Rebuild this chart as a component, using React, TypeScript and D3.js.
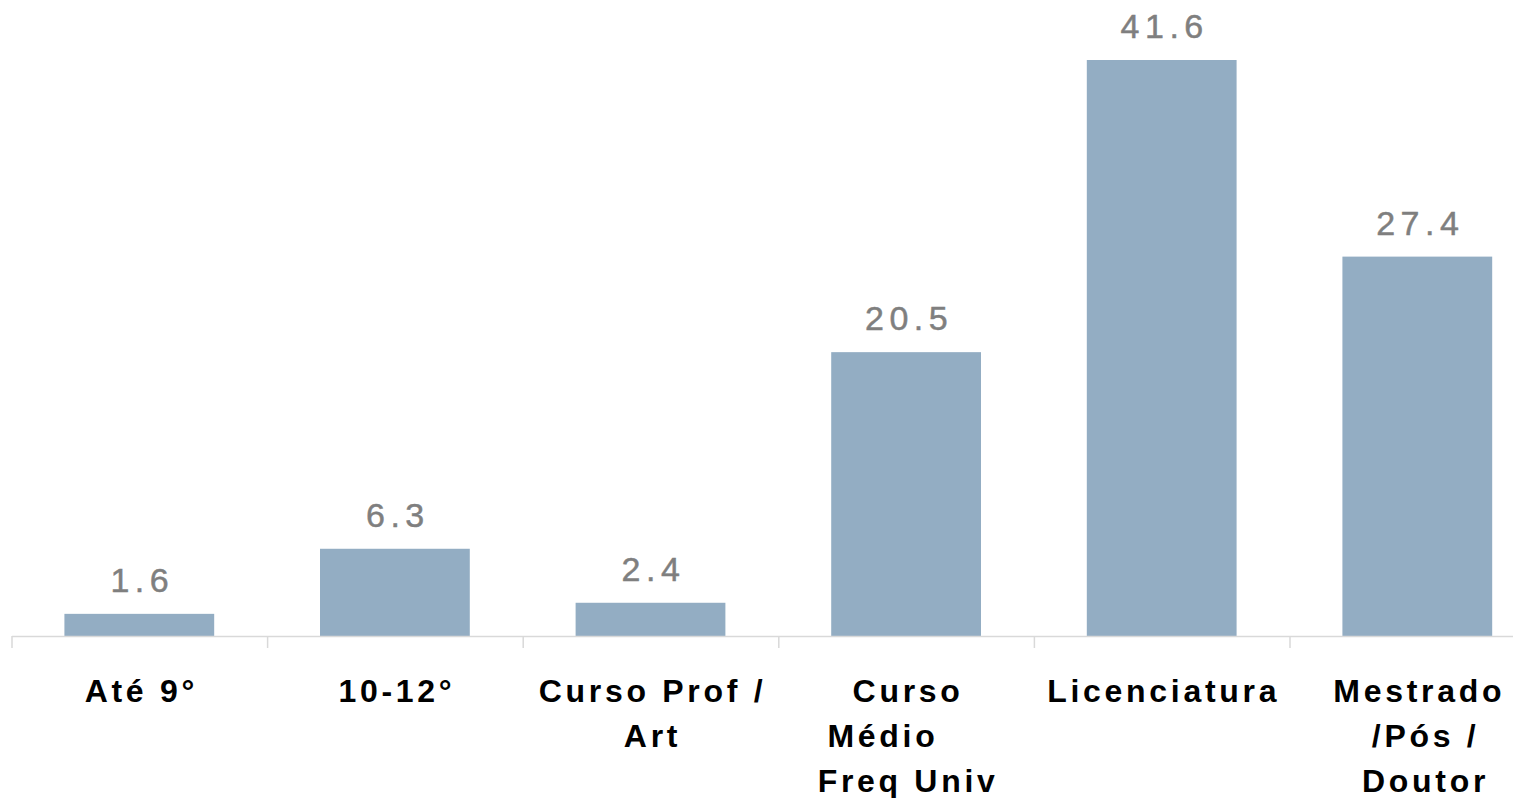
import React, { useEffect, useRef } from 'react';
import * as d3 from 'd3';

const categories = ['Até 9º', '10-12º', 'Curso Prof / Art', 'Curso Médio Freq Univ', 'Licenciatura', 'Mestrado /Pós / Doutor'];
const labelLines = [
  ['Até 9°'],
  ['10-12°'],
  ['Curso Prof /', 'Art'],
  ['Curso', 'Médio    ', 'Freq Univ'],
  ['Licenciatura'],
  ['Mestrado', ' /Pós /', ' Doutor'],
];
const values = [1.6, 6.3, 2.4, 20.5, 41.6, 27.4];

const App = () => {
  const ref = useRef<SVGSVGElement | null>(null);

  useEffect(() => {
    const width = 1513;
    const height = 798;
    const baseY = 636;

    const svg = d3.select(ref.current);
    svg.selectAll('*').remove();

    const x = d3.scaleBand<string>()
      .domain(categories)
      .range([11.5, 11.5 + 6 * 255.6])
      .padding(0);

    const y = d3.scaleLinear()
      .domain([0, 41.6])
      .range([baseY, 60]);

    const barW = x.bandwidth() * 0.586;

    svg.selectAll('rect.bar')
      .data(values)
      .enter()
      .append('rect')
      .attr('class', 'bar')
      .attr('x', (d, i) => x(categories[i])! + (x.bandwidth() - barW) / 2)
      .attr('y', d => y(d))
      .attr('width', barW)
      .attr('height', d => baseY - y(d))
      .attr('fill', '#93adc3');

    // axis line and ticks at category boundaries
    svg.append('line')
      .attr('x1', 12)
      .attr('x2', width)
      .attr('y1', baseY + 0.5)
      .attr('y2', baseY + 0.5)
      .attr('stroke', '#d9d9d9')
      .attr('stroke-width', 1.5);

    svg.selectAll('line.tick')
      .data(categories)
      .enter()
      .append('line')
      .attr('class', 'tick')
      .attr('x1', d => x(d)! + 0.5)
      .attr('x2', d => x(d)! + 0.5)
      .attr('y1', baseY)
      .attr('y2', baseY + 12)
      .attr('stroke', '#d9d9d9')
      .attr('stroke-width', 1.5);

    // value labels
    svg.selectAll('text.val')
      .data(values)
      .enter()
      .append('text')
      .attr('class', 'val')
      .attr('x', (d, i) => x(categories[i])! + x.bandwidth() / 2 + 3)
      .attr('y', d => y(d) - 22)
      .attr('text-anchor', 'middle')
      .attr('font-family', '"Liberation Sans", Arial, sans-serif')
      .attr('font-size', 34)
      .attr('letter-spacing', 5.5)
      .attr('fill', '#7f7f7f')
      .attr('stroke', '#7f7f7f')
      .attr('stroke-width', 0.5)
      .text(d => d.toFixed(1));

    // category labels
    const cat = svg.selectAll('text.cat')
      .data(labelLines)
      .enter()
      .append('text')
      .attr('class', 'cat')
      .attr('text-anchor', 'middle')
      .attr('font-family', '"Liberation Sans", Arial, sans-serif')
      .attr('font-weight', 'bold')
      .attr('font-size', 32)
      .attr('letter-spacing', 3.7)
      .attr('fill', '#000')
      .style('white-space', 'pre');

    cat.each(function (lines, i) {
      const cx = x(categories[i])! + x.bandwidth() / 2 + 2;
      d3.select(this)
        .selectAll('tspan')
        .data(lines)
        .enter()
        .append('tspan')
        .attr('x', cx)
        .attr('y', (d, j) => 702 + j * 45)
        .text(d => d);
    });
  }, []);

  return (
    <svg ref={ref} width={1513} height={798} style={{ position: 'absolute', left: 0, top: 0, background: '#fff' }} />
  );
};

export default App;
